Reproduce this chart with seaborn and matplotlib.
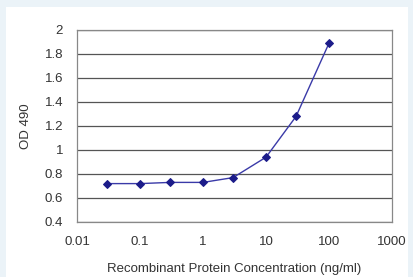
import matplotlib
matplotlib.use("Agg")
import matplotlib.pyplot as plt
import matplotlib.patches as mpatches
import seaborn as sns
import pandas as pd

sns.set_style("white")
plt.rcParams["font.family"] = ["Liberation Sans", "DejaVu Sans"]

# Data
concentration = [0.03, 0.1, 0.3, 1, 3, 10, 30, 100]
od490 = [0.72, 0.72, 0.73, 0.73, 0.77, 0.94, 1.28, 1.89]
y_ticks = [0.4, 0.6, 0.8, 1, 1.2, 1.4, 1.6, 1.8, 2]
y_tick_labels = ["0.4", "0.6", "0.8", "1", "1.2", "1.4", "1.6", "1.8", "2"]
x_ticks = [0.01, 0.1, 1, 10, 100, 1000]
x_tick_labels = ["0.01", "0.1", "1", "10", "100", "1000"]

df = pd.DataFrame({"conc": concentration, "od": od490})

fig = plt.figure(figsize=(4.14, 2.77), dpi=100)
fig.patch.set_facecolor("#ebf3f8")
# white panel behind the chart
fig.patches.append(mpatches.Rectangle((6 / 414, 0), 402 / 414, 1 - 7 / 277,
                                      transform=fig.transFigure, facecolor="white",
                                      edgecolor="none", zorder=-10))

ax = fig.add_axes([77 / 414, 1 - 222 / 277, 315 / 414, 192 / 277])
ax.set_facecolor("white")

sns.lineplot(data=df, x="conc", y="od", ax=ax, color="#3a3aa8", linewidth=1.0,
             marker="D", markersize=4, markerfacecolor="#1c1c8a",
             markeredgecolor="#1c1c8a")

ax.set_xscale("log")
ax.set_xlim(0.01, 1000)
ax.set_ylim(0.4, 2)
ax.set_xticks(x_ticks)
ax.set_xticklabels(x_tick_labels)
ax.set_yticks(y_ticks)
ax.set_yticklabels(y_tick_labels)
ax.minorticks_off()

ax.yaxis.grid(True, color="#555555", linewidth=0.9)
ax.xaxis.grid(False)
ax.set_axisbelow(True)
for s in ax.spines.values():
    s.set_color("#888888")
    s.set_linewidth(0.9)

ax.tick_params(axis="x", direction="in", length=3, color="#666666",
               labelsize=9.5, labelcolor="#333333", pad=10)
ax.tick_params(axis="y", length=0, labelsize=9.5, labelcolor="#333333", pad=10)

ax.set_xlabel("Recombinant Protein Concentration (ng/ml)", fontsize=9.5,
              color="#333333", labelpad=11)
ax.set_ylabel("OD 490", fontsize=9.5, color="#333333", labelpad=9)

fig.savefig("out.png", dpi=100, facecolor=fig.get_facecolor())
